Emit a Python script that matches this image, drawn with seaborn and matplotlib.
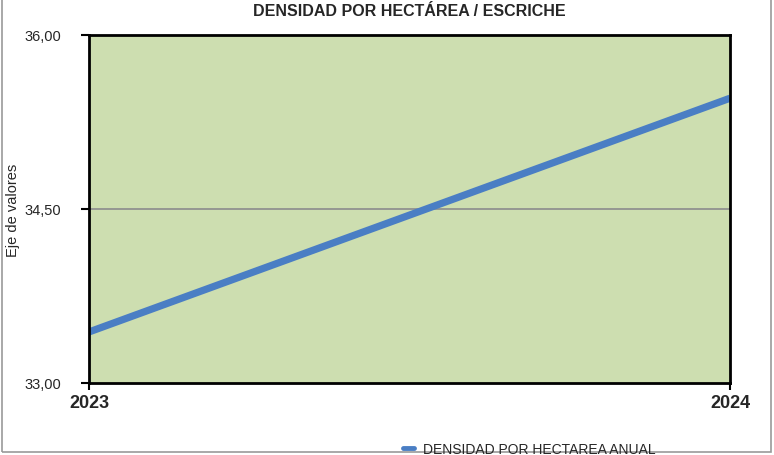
import matplotlib
matplotlib.use("Agg")
import matplotlib.pyplot as plt
import seaborn as sns
import pandas as pd
from matplotlib.patches import Rectangle
from matplotlib.ticker import FuncFormatter

# data
years = [2023, 2024]
densidad = [33.44, 35.455]
serie = "DENSIDAD POR HECTAREA ANUAL"

df = pd.DataFrame({"anio": years, "densidad": densidad, "serie": serie})

sns.set_style("white")
plt.rcParams["font.family"] = ["Liberation Sans", "DejaVu Sans"]

fig = plt.figure(figsize=(7.74, 4.56), dpi=100)
ax = fig.add_axes([89 / 774, 1 - 384 / 456, (730 - 89) / 774, (384 - 36) / 456])
ax.set_facecolor("#cddeb0")

sns.lineplot(data=df, x="anio", y="densidad", hue="serie", palette=["#4a7ec4"],
             linewidth=5.2, ax=ax, legend=False, solid_capstyle="butt")

ax.set_xlim(2023, 2024)
ax.set_ylim(33, 36)
ax.set_yticks([33, 34.5, 36])
ax.yaxis.set_major_formatter(FuncFormatter(lambda v, p: f"{v:.2f}".replace(".", ",")))
ax.set_xticks(years)
ax.set_xticklabels([str(y) for y in years], fontsize=13, fontweight="bold")
ax.axhline(34.5, color="#8c8c8c", linewidth=1.2, zorder=1)

for s in ax.spines.values():
    s.set_color("black")
    s.set_linewidth(2)
ax.tick_params(axis="y", direction="out", length=6, width=1.5, color="black",
               labelsize=10.5, pad=14, left=True)
ax.tick_params(axis="x", direction="out", length=5, width=1.5, color="black",
               pad=3, bottom=True)
ax.set_xlabel("")
ax.set_ylabel("Eje de valores", fontsize=10.5)
ax.yaxis.set_label_coords((20 - 89) / 641, 0.5)

fig.text(409 / 774, 0.975, "DENSIDAD POR HECTÁREA / ESCRICHE", ha="center", va="center",
         fontsize=11.5, fontweight="bold")

# legend at the bottom
fig.legend(handles=[plt.Line2D([], [], color="#4a7ec4", linewidth=3.5)], labels=[serie],
           loc="center left", bbox_to_anchor=(0.505, 0.013), frameon=False,
           fontsize=10, handlelength=0.8, handletextpad=0.6)

fig.patches.append(Rectangle((0.002, 0.006), 0.994, 1.2, transform=fig.transFigure,
                             fill=False, edgecolor="#9a9a9a", linewidth=1.2))

fig.savefig("out.png", dpi=100)
